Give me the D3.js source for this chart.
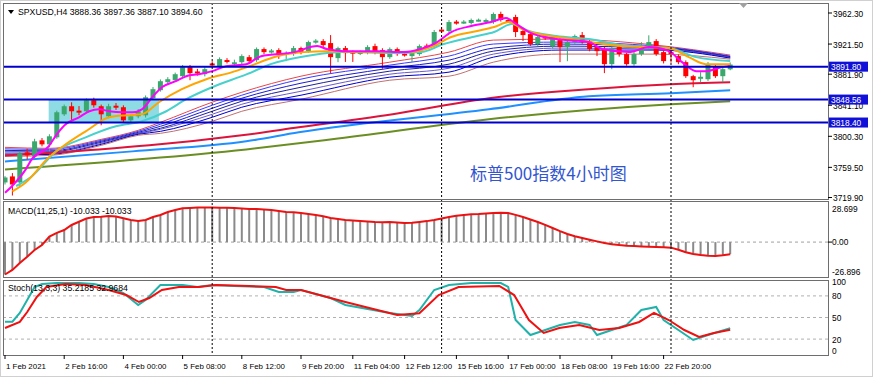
<!DOCTYPE html>
<html>
<head>
<meta charset="utf-8">
<script src="https://cdn.jsdelivr.net/npm/d3@7"></script>
<style>
    body { margin: 0; background: #fff; }
    svg { display: block; font-family: "Liberation Sans", Arial, sans-serif; }
</style>
</head>
<body>
<div id="chart"></div>
<script>
// ---- data ----
const title = "SPXUSD,H4  3888.36 3897.36 3887.10 3894.60";
const timeLabels = ["1 Feb 2021", "2 Feb 16:00", "4 Feb 00:00", "5 Feb 08:00", "8 Feb 12:00", "9 Feb 20:00",
    "11 Feb 04:00", "12 Feb 12:00", "15 Feb 16:00", "17 Feb 00:00", "18 Feb 08:00", "19 Feb 16:00", "22 Feb 20:00"];
const timeBars = [0, 8, 16, 24, 32, 40, 47, 54, 61, 68, 75, 82, 89];
const weekBars = [28, 59, 90];
const priceTicks = [3962.30, 3921.50, 3881.90, 3841.10, 3800.30, 3759.50, 3719.90];
const levels = [3891.80, 3848.56, 3818.40];
const zone = [5.9, 20.8, 3818.40, 3848.56];   // bar from, bar to, low, high

// open, high, low, close
const ohlc = [
    [3739.7, 3748.0, 3737.0, 3746.2], [3747.6, 3752.0, 3722.5, 3737.0], [3739.7, 3781.0, 3735.0, 3777.9],
    [3779.2, 3784.0, 3770.0, 3775.2], [3773.9, 3797.0, 3771.0, 3793.7], [3795.0, 3798.0, 3787.0, 3789.7],
    [3789.7, 3803.0, 3786.0, 3800.3], [3799.0, 3834.0, 3797.0, 3831.9], [3829.2, 3842.0, 3827.0, 3839.8],
    [3839.8, 3845.0, 3821.3, 3833.2], [3834.0, 3840.0, 3828.0, 3832.5], [3833.2, 3850.0, 3831.0, 3847.7],
    [3847.7, 3851.0, 3838.0, 3841.1], [3839.8, 3842.0, 3814.8, 3829.2], [3826.6, 3843.0, 3824.0, 3839.8],
    [3840.5, 3844.0, 3835.0, 3838.5], [3838.5, 3841.0, 3818.0, 3821.3], [3821.3, 3829.0, 3819.0, 3826.6],
    [3826.6, 3836.0, 3824.0, 3833.2], [3827.9, 3854.0, 3825.0, 3851.6], [3850.3, 3865.0, 3848.0, 3862.2],
    [3860.9, 3875.0, 3859.0, 3872.7], [3871.4, 3878.0, 3869.0, 3875.3], [3874.0, 3884.0, 3872.0, 3881.9],
    [3879.3, 3894.0, 3877.0, 3891.2], [3891.2, 3894.0, 3874.0, 3883.3], [3885.5, 3889.0, 3880.0, 3884.0],
    [3881.9, 3891.0, 3879.0, 3888.5], [3896.0, 3899.0, 3891.0, 3894.5], [3892.5, 3904.0, 3890.0, 3901.7],
    [3900.5, 3903.0, 3896.0, 3898.5], [3895.5, 3901.0, 3893.0, 3897.5], [3897.7, 3908.0, 3895.0, 3905.7],
    [3904.3, 3907.0, 3896.0, 3899.1], [3900.4, 3917.0, 3898.0, 3914.9], [3914.9, 3917.0, 3908.0, 3910.9],
    [3911.5, 3915.0, 3909.0, 3913.0], [3913.6, 3916.0, 3902.0, 3908.3], [3909.0, 3912.0, 3899.0, 3910.0],
    [3908.3, 3919.0, 3906.0, 3916.2], [3916.2, 3918.0, 3908.0, 3910.9], [3912.2, 3926.0, 3910.0, 3924.1],
    [3924.5, 3928.0, 3922.0, 3926.0], [3925.4, 3928.0, 3917.0, 3920.1], [3922.8, 3933.3, 3883.3, 3904.3],
    [3903.0, 3918.0, 3897.7, 3916.2], [3916.2, 3919.0, 3898.0, 3909.6], [3911.5, 3913.0, 3898.0, 3910.0],
    [3909.6, 3913.0, 3907.0, 3911.0], [3910.9, 3920.0, 3908.0, 3917.5], [3918.8, 3922.0, 3908.0, 3910.9],
    [3913.6, 3916.0, 3889.0, 3904.3], [3904.3, 3917.0, 3902.0, 3914.9], [3914.9, 3917.0, 3906.0, 3908.3],
    [3909.0, 3911.0, 3905.0, 3907.5], [3905.7, 3913.0, 3898.0, 3910.9], [3908.3, 3921.0, 3906.0, 3918.8],
    [3919.5, 3922.0, 3915.0, 3918.0], [3918.8, 3940.0, 3916.0, 3937.3], [3940.5, 3943.0, 3936.0, 3939.0],
    [3938.6, 3953.0, 3936.0, 3950.4], [3951.0, 3953.0, 3947.0, 3949.5], [3950.4, 3953.0, 3948.0, 3951.0],
    [3949.1, 3955.0, 3947.0, 3953.1], [3953.0, 3955.0, 3951.0, 3953.5], [3950.4, 3955.0, 3948.0, 3953.1],
    [3950.4, 3963.0, 3948.0, 3961.0], [3961.0, 3964.0, 3951.0, 3953.1], [3953.0, 3955.0, 3950.0, 3952.0],
    [3957.0, 3960.0, 3930.7, 3937.3], [3938.6, 3940.0, 3925.4, 3933.3], [3934.6, 3937.0, 3919.0, 3921.5],
    [3921.5, 3933.0, 3919.0, 3930.7], [3931.5, 3933.0, 3927.0, 3930.0], [3918.8, 3933.0, 3916.0, 3930.7],
    [3928.0, 3931.0, 3897.7, 3917.5], [3917.5, 3927.0, 3899.0, 3924.1], [3924.1, 3934.0, 3922.0, 3932.0],
    [3933.3, 3937.3, 3922.0, 3924.1], [3925.4, 3928.0, 3912.0, 3914.9], [3917.5, 3919.0, 3905.7, 3912.2],
    [3914.9, 3918.0, 3883.3, 3895.1], [3895.1, 3918.0, 3888.5, 3914.9], [3917.5, 3920.0, 3905.0, 3908.3],
    [3908.3, 3910.0, 3893.0, 3895.1], [3895.1, 3911.0, 3893.0, 3908.3], [3908.3, 3924.0, 3906.0, 3918.8],
    [3917.5, 3933.0, 3915.0, 3924.1], [3925.4, 3928.0, 3906.0, 3908.3], [3910.9, 3913.0, 3896.0, 3899.1],
    [3911.0, 3913.0, 3897.0, 3909.5], [3905.7, 3908.0, 3895.0, 3897.7], [3897.7, 3900.0, 3877.0, 3879.3],
    [3879.3, 3881.0, 3864.8, 3874.0], [3876.5, 3884.6, 3871.4, 3878.5], [3875.3, 3898.0, 3873.0, 3895.1],
    [3892.5, 3895.0, 3877.0, 3879.3], [3879.3, 3892.0, 3871.4, 3888.5], [3888.36, 3897.36, 3887.10, 3894.60]
];

// moving averages, [bar, price] points
const maFast = [[0, 3726], [0.9, 3734.4], [2.8, 3756.8], [3.6, 3769.9], [5.9, 3787.1], [7, 3802.9], [8.2, 3816.1],
    [10, 3825.3], [11.4, 3833.2], [12.7, 3835.8], [14.1, 3833.2], [15.8, 3831.9], [17.2, 3831.9], [18.5, 3835.8],
    [19.9, 3851.6], [21.2, 3864.8], [23.1, 3872.7], [24.5, 3879.3], [26.2, 3881.9], [28, 3885.9], [29.9, 3892.5],
    [32.6, 3895.1], [34.6, 3905.6], [39.1, 3910.9], [42.2, 3918.8], [43.5, 3914.9], [45.8, 3912.2], [50.3, 3912.2],
    [53.9, 3910.9], [56.2, 3914.9], [58.4, 3924.1], [60.3, 3937.3], [63, 3945.2], [65.7, 3950.4], [67.7, 3955.7],
    [69.1, 3947.8], [70.8, 3937.3], [74.5, 3928.0], [78.9, 3924.1], [80.7, 3914.9], [84.3, 3910.9], [87, 3917.5],
    [89.7, 3912.2], [91.5, 3897.7], [93.4, 3885.9], [94.7, 3885.9], [96.9, 3891.2], [98, 3892.5]];
const maMid = [[1, 3728], [2.8, 3739.7], [5.9, 3772.6], [8.2, 3789.7], [10.9, 3806.8], [14.1, 3825.3], [16.4, 3827.9],
    [18.5, 3829.2], [20.8, 3845.0], [23.9, 3862.2], [27.2, 3875.3], [30.7, 3884.6], [32.7, 3891.2], [36.8, 3905.6],
    [40.4, 3910.9], [43.5, 3912.2], [50.3, 3910.9], [54.9, 3910.9], [57.6, 3917.5], [60.3, 3930.7], [63.8, 3938.6],
    [66.1, 3943.9], [68.1, 3950.4], [69.9, 3941.2], [72.2, 3934.6], [76.6, 3928.0], [83.4, 3918.8], [89.7, 3916.2],
    [92.4, 3904.3], [94.7, 3895.1], [98, 3895.1]];
const maSlow = [[1.5, 3735], [3.6, 3747.6], [6.9, 3780.5], [10.9, 3798.9], [15, 3813.4], [18.5, 3820.0], [21.8, 3833.2],
    [24.5, 3849.0], [28, 3864.8], [32.7, 3881.9], [35.9, 3895.1], [41.4, 3906.9], [45.8, 3910.9], [52.6, 3909.6],
    [56.2, 3910.9], [59.3, 3921.5], [63.8, 3932.0], [66.1, 3937.3], [68.5, 3947.8], [70.8, 3938.6], [74.5, 3932.0],
    [78.9, 3928.0], [84.3, 3918.8], [89.7, 3916.2], [93.4, 3904.3], [98, 3899.1]];

// ribbon of long averages, top to bottom
const ribbonBars = [0, 6, 13, 18, 21, 28, 32, 40, 52, 60, 66, 75, 88, 98];
const ribbon = [
    [3785.8, 3784.5, 3796.3, 3808.2, 3818.7, 3845.1, 3858.2, 3879.3, 3897.7, 3910.9, 3926.7, 3928.0, 3920.1, 3907.0],
    [3783.8, 3783.1, 3795.0, 3806.8, 3816.1, 3841.1, 3854.3, 3875.4, 3893.8, 3905.7, 3921.5, 3924.1, 3918.8, 3905.7],
    [3781.8, 3781.2, 3793.7, 3805.5, 3813.4, 3837.1, 3850.3, 3870.1, 3889.8, 3900.4, 3916.2, 3921.5, 3917.5, 3905.0],
    [3779.8, 3779.8, 3792.4, 3804.2, 3810.8, 3833.2, 3846.4, 3864.8, 3885.9, 3895.1, 3912.2, 3918.8, 3916.2, 3904.3],
    [3777.9, 3777.9, 3791.0, 3803.6, 3809.5, 3829.2, 3842.4, 3859.5, 3881.9, 3889.8, 3908.3, 3916.2, 3914.9, 3903.7],
    [3775.9, 3776.5, 3789.7, 3802.9, 3806.8, 3825.3, 3838.5, 3854.3, 3878.0, 3884.6, 3904.3, 3913.6, 3913.6, 3903.0],
    [3773.9, 3775.2, 3788.4, 3801.6, 3804.2, 3820.0, 3833.2, 3849.0, 3874.0, 3879.3, 3897.7, 3908.3, 3908.3, 3901.7]
];
const ribbonColors = ["#e8464b", "#3a3aff", "#1c1cd0", "#20209a", "#6a5acd", "#0000cd", "#c07070"];

const maLong1 = [[0, 3775.2], [12.7, 3783.1], [19.5, 3788.4], [32, 3801.6], [39.7, 3812.1], [53.2, 3830.6],
    [65.4, 3850.3], [78.9, 3862.2], [90, 3868.8], [98, 3871.4]];
const maLong2 = [[0, 3767.3], [17.2, 3780.5], [32.6, 3793.7], [39.7, 3805.5], [65.4, 3835.8], [78.9, 3852.9],
    [90, 3856.9], [98, 3860.9]];
const maLong3 = [[0, 3756.8], [32.6, 3783.1], [44.2, 3796.3], [65.4, 3822.7], [90, 3842.4], [98, 3846.4]];

// MACD(11,25,1), one value per bar
const macd = [-26.9, -23.1, -17.3, -12.1, -6.6, -2.4, 4.5, 7.6, 10.0, 14.2, 16.9, 19.6, 20.8, 21.1, 21.7, 21.2,
    19.7, 18.3, 17.5, 18.3, 20.8, 22.5, 25.0, 26.6, 28.0, 28.3, 28.6, 28.699, 28.6, 28.5, 28.4, 28.2, 27.9, 27.5,
    27.5, 27.0, 26.6, 25.8, 25.0, 24.7, 24.1, 23.3, 22.5, 21.5, 20.0, 19.2, 18.3, 17.9, 17.5, 17.1, 16.7, 16.5,
    16.7, 16.2, 15.8, 16.0, 16.7, 17.4, 18.3, 19.6, 20.8, 21.8, 22.5, 23.0, 23.3, 23.8, 24.1, 24.3, 24.1, 22.6,
    20.8, 18.8, 16.7, 14.3, 11.7, 9.1, 6.7, 4.8, 3.4, 2.0, 0.6, -0.8, -1.8, -2.5, -3.0, -3.3, -3.6, -3.8, -4.0,
    -4.3, -4.6, -6.3, -8.4, -9.8, -10.8, -11.3, -11.5, -11.0, -10.033];

// Stoch(13,3,3) [bar, value]
const stochMain = [[0, 44.2], [1, 44.2], [2, 56.3], [3, 74.3], [4, 92.4], [5, 96.5], [7, 97.9], [10, 97.9], [12, 96.5],
    [14, 92.4], [16, 84.0], [18, 67.4], [19, 74.3], [21, 95.1], [24, 95.1], [26, 92.4], [28, 95.1], [31, 93.8],
    [35, 92.4], [37, 85.4], [39, 85.4], [40, 88.2], [44, 77.1], [46, 67.4], [52, 56.3], [55, 52.1], [56, 60.4],
    [58, 88.2], [60, 95.1], [63, 97.9], [67, 97.9], [68, 92.4], [69, 46.5], [71, 25.7], [73, 32.6], [75, 39.6],
    [77, 43.8], [79, 39.6], [80, 25.7], [82, 32.6], [84, 39.6], [86, 60.4], [88, 64.6], [89, 46.5], [91, 32.6],
    [93, 18.8], [95, 25.7], [98, 35.2185]];
const stochSignal = [[0, 35.4], [2, 43.8], [3, 57.6], [4.3, 78.5], [5.6, 92.4], [8.2, 96.5], [10.9, 95.1], [14, 88.2],
    [16.4, 81.2], [18.1, 71.5], [19.5, 77.1], [21.2, 88.2], [23.5, 92.4], [26.2, 92.4], [28.5, 95.1], [33, 93.8],
    [36.6, 92.4], [38, 88.2], [40, 88.2], [46, 71.5], [53, 53.5], [56, 56], [58.6, 81.2], [61.3, 92.4], [66.8, 93.8],
    [68.8, 81.2], [70.8, 46.5], [72.8, 28.5], [74.9, 35.4], [77.6, 39.6], [80.3, 32.6], [83, 35.4], [85.7, 43.8],
    [87.7, 56.3], [89.7, 46.5], [91.8, 32.6], [93.8, 22.9], [95.8, 28.5], [98, 32.9684]];
const stochLevels = [80, 50, 20];

// ---- layout ----
const W = 873, H = 377;
const L = 3, R = 828;
const pMain = {top: 3, bottom: 199}, pMacd = {top: 201, bottom: 277}, pStoch = {top: 280, bottom: 355};
const font = 8.7;

const svg = d3.select("#chart").append("svg").attr("width", W).attr("height", H);
svg.append("rect").attr("width", W).attr("height", H).attr("fill", "#fff");
svg.append("rect").attr("x", 0.5).attr("y", 0.5).attr("width", W - 1).attr("height", H - 1)
    .attr("fill", "none").attr("stroke", "#d0d0d0");

const x = d3.scaleLinear().domain([0, 98]).range([5, 730.2]);
const y = d3.scaleLinear().domain([3719.9, 3962.3]).range([197.5, 13]);
const ym = d3.scaleLinear().domain([-26.896, 28.699]).range([274.5, 207.5]);
const ys = d3.scaleLinear().domain([0, 100]).range([353.5, 281.5]);

// clip paths per panel
const defs = svg.append("defs");
[["cMain", pMain], ["cMacd", pMacd], ["cStoch", pStoch]].forEach(([id, p]) => {
    defs.append("clipPath").attr("id", id).append("rect")
        .attr("x", L).attr("y", p.top).attr("width", R - L).attr("height", p.bottom - p.top);
});

// ---- main panel ----
const gMain = svg.append("g").attr("clip-path", "url(#cMain)");

gMain.append("rect")
    .attr("x", x(zone[0])).attr("width", x(zone[1]) - x(zone[0]))
    .attr("y", y(zone[3])).attr("height", y(zone[2]) - y(zone[3]))
    .attr("fill", "#8fdbe3");

const maLine = d3.line().x(d => x(d[0])).y(d => y(d[1])).curve(d3.curveMonotoneX);

ribbon.forEach((vals, i) => {
    gMain.append("path")
        .attr("d", maLine(vals.map((v, j) => [ribbonBars[j], v])))
        .attr("fill", "none").attr("stroke", ribbonColors[i]).attr("stroke-width", 1);
});

[[maLong3, "#6b8e23"], [maLong2, "#1e90ff"], [maLong1, "#dc143c"]].forEach(([pts, c]) => {
    gMain.append("path").attr("d", maLine(pts))
        .attr("fill", "none").attr("stroke", c).attr("stroke-width", 2);
});

// candles
const candle = gMain.append("g").selectAll("g").data(ohlc).join("g");
const cColor = d => d[3] >= d[0] ? "#3aa76d" : "#ff0000";
candle.append("line")
    .attr("x1", (d, i) => x(i)).attr("x2", (d, i) => x(i))
    .attr("y1", d => y(d[1])).attr("y2", d => y(d[2]))
    .attr("stroke", cColor).attr("stroke-width", 1);
candle.append("rect")
    .attr("x", (d, i) => x(i) - 2.5).attr("width", 5)
    .attr("y", d => y(Math.max(d[0], d[3])))
    .attr("height", d => Math.max(2, Math.abs(y(d[0]) - y(d[3]))))
    .attr("fill", cColor);

[[maSlow, "#48d1cc"], [maMid, "#ffa500"], [maFast, "#ff00ff"]].forEach(([pts, c]) => {
    gMain.append("path").attr("d", maLine(pts))
        .attr("fill", "none").attr("stroke", c).attr("stroke-width", 2);
});

// horizontal levels
gMain.selectAll(".lvl").data(levels).join("line").attr("class", "lvl")
    .attr("x1", L).attr("x2", R)
    .attr("y1", d => y(d)).attr("y2", d => y(d))
    .attr("stroke", "#0000cd").attr("stroke-width", 2);

svg.append("text")
    .attr("x", 470).attr("y", 180)
    .attr("font-family", "'Noto Sans CJK SC', sans-serif").attr("font-size", 17)
    .attr("fill", "#3355d0")
    .text("标普500指数4小时图");

// ---- MACD panel ----
const gMacd = svg.append("g").attr("clip-path", "url(#cMacd)");
gMacd.append("line").attr("x1", L).attr("x2", R).attr("y1", ym(0)).attr("y2", ym(0))
    .attr("stroke", "#a0a0a0").attr("stroke-dasharray", "3,3");
gMacd.selectAll(".hist").data(macd).join("rect").attr("class", "hist")
    .attr("x", (d, i) => x(i) - 1).attr("width", 2)
    .attr("y", d => Math.min(ym(d), ym(0)))
    .attr("height", d => Math.abs(ym(d) - ym(0)))
    .attr("fill", "#8a8a8a");
gMacd.append("path")
    .attr("d", d3.line().x((d, i) => x(i)).y(d => ym(d))(macd))
    .attr("fill", "none").attr("stroke", "#ee1111").attr("stroke-width", 2);

// ---- Stoch panel ----
const gSt = svg.append("g").attr("clip-path", "url(#cStoch)");
gSt.selectAll(".sl").data(stochLevels).join("line").attr("class", "sl")
    .attr("x1", L).attr("x2", R).attr("y1", d => ys(d)).attr("y2", d => ys(d))
    .attr("stroke", "#b0b0b0").attr("stroke-dasharray", "3,3");
const stLine = d3.line().x(d => x(d[0])).y(d => ys(d[1]));
gSt.append("path").attr("d", stLine(stochMain))
    .attr("fill", "none").attr("stroke", "#20b2aa").attr("stroke-width", 2);
gSt.append("path").attr("d", stLine(stochSignal))
    .attr("fill", "none").attr("stroke", "#ee1111").attr("stroke-width", 2);

// week separators
svg.selectAll(".sep").data(weekBars).join("line").attr("class", "sep")
    .attr("x1", d => x(d)).attr("x2", d => x(d))
    .attr("y1", pMain.top).attr("y2", pStoch.bottom)
    .attr("stroke", "#000").attr("stroke-dasharray", "2,2");

// panel frames
[pMain, pMacd, pStoch].forEach(p => {
    svg.append("rect").attr("x", L + 0.5).attr("y", p.top + 0.5)
        .attr("width", R - L).attr("height", p.bottom - p.top)
        .attr("fill", "none").attr("stroke", "#6e6e6e");
});

// ---- texts ----
svg.append("path").attr("d", "M8,10 L14,10 L11,14 Z").attr("fill", "#000");
svg.append("text").attr("x", 18).attr("y", 15).attr("font-size", font).text(title);
svg.append("text").attr("x", 8).attr("y", 214).attr("font-size", font).text("MACD(11,25,1) -10.033 -10.033");
svg.append("text").attr("x", 8).attr("y", 291).attr("font-size", font).text("Stoch(13,3,3) 35.2185 32.9684");

// chart shift marker
svg.append("path").attr("d", "M739,3 L748,3 L743.5,8 Z").attr("fill", "#a0a0a0");

// price axis
const pAx = svg.append("g");
pAx.selectAll("line").data(priceTicks).join("line")
    .attr("x1", R).attr("x2", R + 4).attr("y1", d => y(d)).attr("y2", d => y(d)).attr("stroke", "#000");
pAx.selectAll("text").data(priceTicks).join("text")
    .attr("x", 833).attr("y", d => y(d) + 3.5).attr("font-size", 8.4).text(d => d.toFixed(2));

// level tags
const tag = svg.append("g").selectAll("g").data(levels).join("g");
tag.append("rect").attr("x", 829).attr("y", d => y(d) - 5).attr("width", 39).attr("height", 10).attr("fill", "#1010d8");
tag.append("text").attr("x", 831).attr("y", d => y(d) + 3).attr("font-size", 8.4).attr("fill", "#fff")
    .text(d => d.toFixed(2));

// MACD axis
[[28.699, 209], [0, 242], [-26.896, 271.5]].forEach(([v, cy]) => {
    svg.append("text").attr("x", 832).attr("y", cy + 3).attr("font-size", 8.4)
        .text(v === 0 ? "0.00" : v.toFixed(3));
});
svg.append("line").attr("x1", R).attr("x2", R + 4).attr("y1", ym(0)).attr("y2", ym(0)).attr("stroke", "#000");

// Stoch axis
[100, 80, 50, 20, 0].forEach(v => {
    svg.append("text").attr("x", 832).attr("y", Math.min(ys(v), 350) + 3.5).attr("font-size", 8.4).text(v);
});

// time axis
const tAx = svg.append("g");
tAx.selectAll("line").data(timeBars).join("line")
    .attr("x1", d => x(d)).attr("x2", d => x(d)).attr("y1", pStoch.bottom).attr("y2", pStoch.bottom + 4)
    .attr("stroke", "#000");
tAx.selectAll("text").data(timeLabels).join("text")
    .attr("x", (d, i) => x(timeBars[i]) + 1).attr("y", 369).attr("font-size", 7.9).text(d => d);
</script>
</body>
</html>
